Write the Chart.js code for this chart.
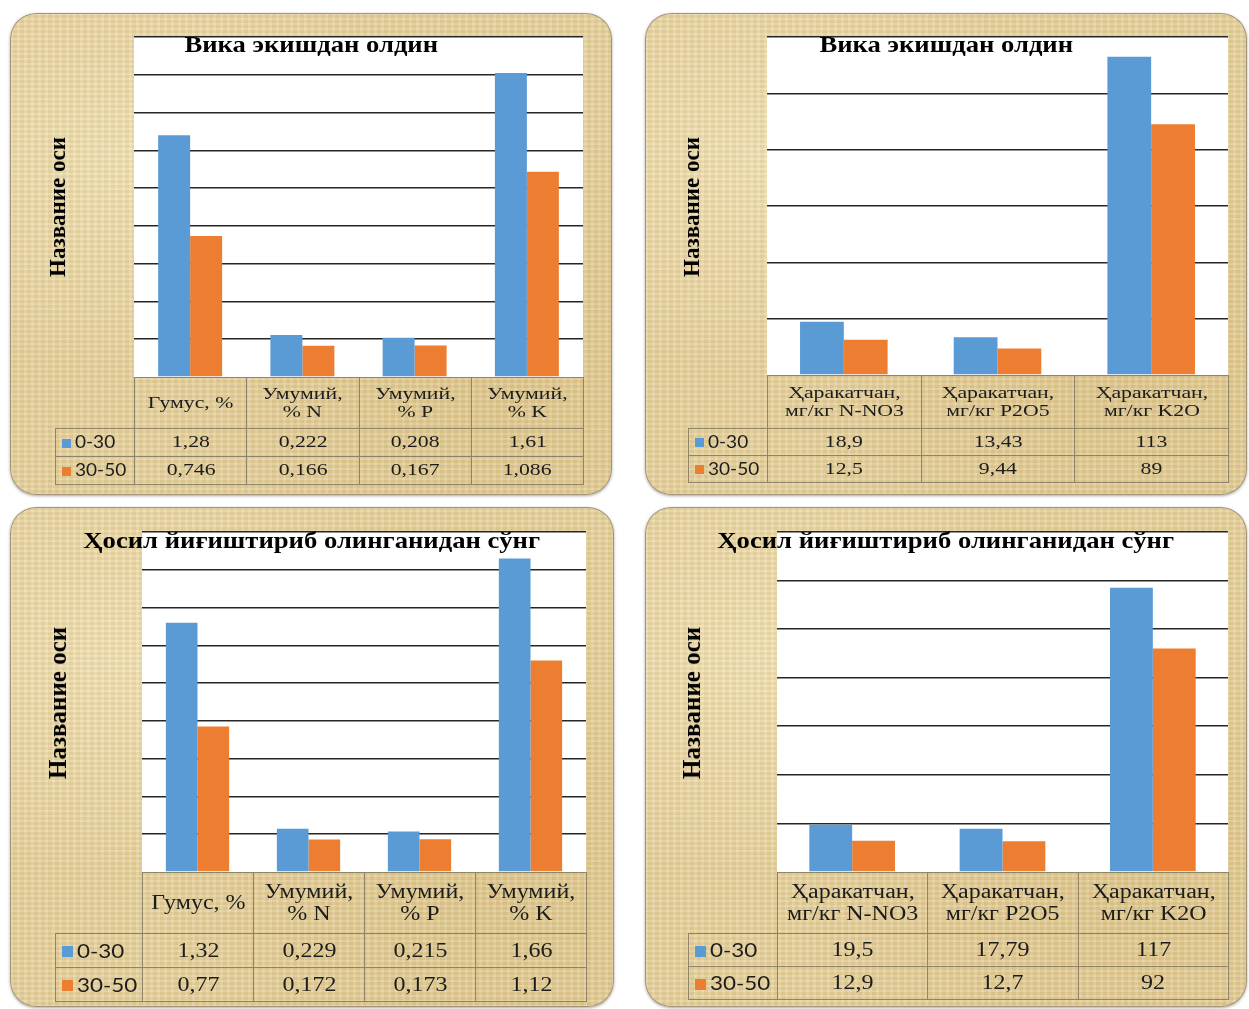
<!DOCTYPE html>
<html>
<head>
<meta charset="utf-8">
<script src="https://cdn.jsdelivr.net/npm/chart.js@4.4.1/dist/chart.umd.min.js"></script>
<style>
html, body { margin: 0; padding: 0; background: #fff; width: 1249px; height: 1009px; overflow: hidden; }
.panel {
    position: absolute; border-radius: 26px; overflow: hidden;
    box-shadow: inset 0 0 0 1px #a3957a, 0 1px 3px rgba(0,0,0,.35);
    background-color: #e6d29e;
    background-image:
        repeating-linear-gradient(0deg, rgba(255,255,255,.10) 0 2px, rgba(140,100,30,.06) 2px 5px),
        repeating-linear-gradient(90deg, rgba(255,255,255,.08) 0 3px, rgba(140,100,30,.06) 3px 7px),
        radial-gradient(ellipse at 20% 30%, rgba(255,245,210,.45), rgba(255,245,210,0) 45%),
        radial-gradient(ellipse at 80% 75%, rgba(200,170,100,.25), rgba(200,170,100,0) 50%);
}
.panel canvas { position: absolute; left: 0; top: 0; }
.ttl { position: absolute; left: 0; width: 100%; text-align: center; font-family: 'Liberation Serif', 'DejaVu Serif', serif; font-weight: bold; color: #000; white-space: nowrap; line-height: 26px; }
.ttl span { display: inline-block; transform: scaleX(1.11); }
.ytl { position: absolute; transform: translate(-50%, -50%) rotate(-90deg); font-family: 'Liberation Serif', 'DejaVu Serif', serif; font-weight: bold; white-space: nowrap; color: #000; }
table { position: absolute; border-collapse: collapse; table-layout: fixed; font-family: 'Liberation Serif', 'DejaVu Serif', serif; color: #1c1c1c; }
td { border: 1px solid #8f8369; text-align: center; padding: 0; line-height: 1.08; overflow: hidden; white-space: nowrap; }
td.blank { border: none; }
td.key { text-align: left; font-family: Lato, 'Liberation Sans', sans-serif; padding-left: 6px; }
.sx { display: inline-block; }
.sw { display: inline-block; margin-right: 4px; vertical-align: middle; position: relative; top: -1px; }
</style>
</head>
<body>
<script>
// categories
const catsTotal = [['Гумус, %'], ['Умумий,', '% N'], ['Умумий,', '% P'], ['Умумий,', '% K']];
const catsMobile = [['Ҳаракатчан,', 'мг/кг N-NO3'], ['Ҳаракатчан,', 'мг/кг P2O5'], ['Ҳаракатчан,', 'мг/кг K2O']];
const seriesNames = ['0-30', '30-50'];

// before sowing vetch
const beforeTotal030 = [1.28, 0.222, 0.208, 1.61];
const beforeTotal3050 = [0.746, 0.166, 0.167, 1.086];
const beforeMobile030 = [18.9, 13.43, 113];
const beforeMobile3050 = [12.5, 9.44, 89];

// after harvest
const afterTotal030 = [1.32, 0.229, 0.215, 1.66];
const afterTotal3050 = [0.77, 0.172, 0.173, 1.12];
const afterMobile030 = [19.5, 17.79, 117];
const afterMobile3050 = [12.9, 12.7, 92];

const titleBefore = 'Вика экишдан олдин';
const titleAfter = 'Ҳосил йиғиштириб олинганидан сўнг';
const axisTitle = 'Название оси';

const colors = ['#5b9bd5', '#ed7d31'];

const plotBg = {
    id: 'plotBg',
    beforeDraw(chart) {
        const a = chart.chartArea, c = chart.ctx;
        c.save();
        c.fillStyle = '#fff';
        c.fillRect(a.left, a.top, a.right - a.left, a.bottom - a.top);
        c.restore();
    }
};

function fmt(v) { return String(v).replace('.', ','); }

function makePanel(o) {
    const w = o.panel[2], h = o.panel[3];
    const p = document.createElement('div');
    p.className = 'panel';
    p.style.left = o.panel[0] + 'px';
    p.style.top = o.panel[1] + 'px';
    p.style.width = w + 'px';
    p.style.height = h + 'px';
    document.body.appendChild(p);

    const cv = document.createElement('canvas');
    cv.width = w; cv.height = h;
    cv.style.width = w + 'px'; cv.style.height = h + 'px';
    p.appendChild(cv);

    const pad = {
        left: o.plot[0] - o.panel[0],
        top: o.plot[1] - o.panel[1],
        right: o.panel[0] + w - o.plot[2],
        bottom: o.panel[1] + h - o.plot[3]
    };

    const chart = new Chart(cv, {
        type: 'bar',
        data: {
            labels: o.labels,
            datasets: [
                { label: seriesNames[0], data: o.s1, backgroundColor: colors[0] },
                { label: seriesNames[1], data: o.s2, backgroundColor: colors[1] }
            ]
        },
        options: {
            responsive: false,
            animation: false,
            layout: { padding: pad },
            categoryPercentage: 0.57,
            barPercentage: 1.0,
            plugins: { legend: { display: false }, title: { display: false }, tooltip: { enabled: false } },
            scales: {
                x: {
                    grid: { display: false },
                    border: { display: false },
                    ticks: { display: false },
                    afterFit(s) { s.height = 0; }
                },
                y: {
                    min: 0, max: o.yMax,
                    ticks: { display: false, stepSize: o.yStep },
                    border: { display: false },
                    grid: {
                        drawTicks: false, lineWidth: 1.6,
                        color: ctx => ctx.tick && ctx.tick.value === 0 ? 'rgba(0,0,0,0)' : '#262626'
                    },
                    afterFit(s) { s.width = 0; }
                }
            }
        },
        plugins: [plotBg]
    });

    // title and axis title
    const t = document.createElement('div');
    t.className = 'ttl';
    t.style.top = (o.titleY - o.panel[1] - 13) + 'px';
    t.style.fontSize = o.titleSize + 'px';
    const ts = document.createElement('span');
    ts.textContent = o.title;
    t.appendChild(ts);
    p.appendChild(t);

    const yt = document.createElement('div');
    yt.className = 'ytl';
    yt.style.left = (o.yTitle[0] - o.panel[0]) + 'px';
    yt.style.top = (o.yTitle[1] - o.panel[1]) + 'px';
    yt.style.fontSize = o.yTitleSize + 'px';
    yt.textContent = axisTitle;
    p.appendChild(yt);

    // data table under the x axis, columns taken from the x scale
    const a = chart.chartArea, xs = chart.scales.x;
    const colW = xs.width / o.labels.length;
    const sx = 'transform:scaleX(' + o.stretch + ')';
    const tb = document.createElement('table');
    tb.style.left = (a.left - o.keyW) + 'px';
    tb.style.top = a.bottom + 'px';
    tb.style.width = (o.keyW + colW * o.labels.length) + 'px';
    tb.style.fontSize = o.fontSize + 'px';
    const cg = document.createElement('colgroup');
    [o.keyW].concat(o.labels.map(() => colW)).forEach(cw => {
        const c = document.createElement('col');
        c.style.width = cw + 'px';
        cg.appendChild(c);
    });
    tb.appendChild(cg);

    const hr = document.createElement('tr');
    hr.style.height = o.rowH[0] + 'px';
    const blank = document.createElement('td');
    blank.className = 'blank';
    hr.appendChild(blank);
    o.labels.forEach(l => {
        const td = document.createElement('td');
        td.innerHTML = '<span class="sx" style="' + sx + '">' + l.join('<br>') + '</span>';
        hr.appendChild(td);
    });
    tb.appendChild(hr);

    [o.s1, o.s2].forEach((s, k) => {
        const tr = document.createElement('tr');
        tr.style.height = o.rowH[k + 1] + 'px';
        const key = document.createElement('td');
        key.className = 'key';
        key.style.fontSize = o.keySize + 'px';
        key.innerHTML = '<span class="sw" style="width:' + o.sw + 'px;height:' + o.sw + 'px;background:' + colors[k] + '"></span>' +
            '<span class="sx" style="transform-origin:left center;transform:scaleX(1.12)">' + seriesNames[k] + '</span>';
        tr.appendChild(key);
        s.forEach(v => {
            const td = document.createElement('td');
            td.innerHTML = '<span class="sx" style="' + sx + '">' + fmt(v) + '</span>';
            tr.appendChild(td);
        });
        tb.appendChild(tr);
    });
    p.appendChild(tb);
}

makePanel({
    panel: [10, 13, 602, 482], plot: [134, 37, 583, 377],
    labels: catsTotal, s1: beforeTotal030, s2: beforeTotal3050, yMax: 1.8, yStep: 0.2,
    title: titleBefore, titleY: 44, titleSize: 24, yTitle: [58, 207], yTitleSize: 23,
    keyW: 79, rowH: [51, 28, 28], fontSize: 17, keySize: 17, sw: 9, stretch: 1.28
});
makePanel({
    panel: [645, 13, 602, 482], plot: [767, 37, 1228, 375],
    labels: catsMobile, s1: beforeMobile030, s2: beforeMobile3050, yMax: 120, yStep: 20,
    title: titleBefore, titleY: 44, titleSize: 24, yTitle: [692, 207], yTitleSize: 23,
    keyW: 79, rowH: [53, 27, 27], fontSize: 17, keySize: 17, sw: 9, stretch: 1.28
});
makePanel({
    panel: [10, 507, 604, 500], plot: [142, 532, 586, 872],
    labels: catsTotal, s1: afterTotal030, s2: afterTotal3050, yMax: 1.8, yStep: 0.2,
    title: titleAfter, titleY: 540, titleSize: 24, yTitle: [58, 703], yTitleSize: 25,
    keyW: 87, rowH: [61, 34, 34], fontSize: 20, keySize: 20, sw: 11, stretch: 1.2
});
makePanel({
    panel: [645, 507, 602, 500], plot: [777, 532, 1228, 872],
    labels: catsMobile, s1: afterMobile030, s2: afterMobile3050, yMax: 140, yStep: 20,
    title: titleAfter, titleY: 540, titleSize: 24, yTitle: [692, 703], yTitleSize: 25,
    keyW: 89, rowH: [61, 33, 33], fontSize: 20, keySize: 20, sw: 11, stretch: 1.2
});
</script>
</body>
</html>
